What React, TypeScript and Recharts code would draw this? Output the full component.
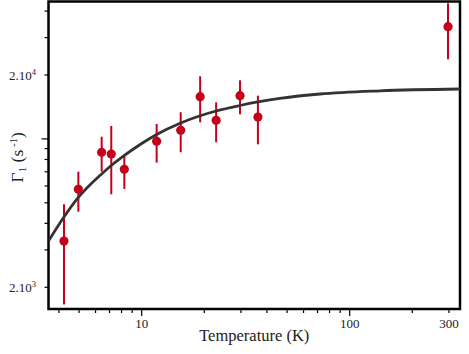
import React from 'react';
import { ComposedChart, Line, Scatter, XAxis, YAxis, ErrorBar, ReferenceArea } from 'recharts';

// Measured points
const temperatures = [4.23, 4.96, 6.42, 7.14, 8.25, 11.8, 15.4, 19.1, 22.8, 29.7, 36.2, 297];
const gammaValues = [3300, 5790, 8650, 8490, 7190, 9740, 10980, 15810, 12230, 15980, 12680, 33780];
const gammaLower = [1660, 4540, 7010, 5480, 5810, 7730, 8650, 11970, 9640, 13060, 9430, 23720];
const gammaUpper = [4920, 7010, 10240, 11510, 8310, 11760, 13350, 19720, 14870, 18880, 15980, 43520];

// Fitted curve
const fitTemperatures = [3.564, 4.23, 4.96, 6.42, 7.14, 8.25, 10, 11.8, 15.4, 19.1, 22.8, 29.7, 36.2, 46.2, 71.9, 140, 339];
const fitGamma = [3304, 4286, 5296, 6838, 7494, 8352, 9514, 10490, 11882, 12850, 13534, 14364, 14924, 15502, 16274, 16850, 17180];

// Axes
const xTicks = [4, 5, 6, 7, 8, 9, 10, 20, 30, 40, 50, 60, 70, 80, 90, 100, 200, 300];
const xTickLabels: Record<number, string> = { 10: '10', 100: '100', 300: '300' };
const xMajorTicks = [10, 100];
const yTicks = [2000, 3000, 4000, 5000, 6000, 7000, 8000, 9000, 10000, 20000, 30000, 40000];
const yTickLabels: Record<number, [string, string]> = { 2000: ['2.10', '3'], 20000: ['2.10', '4'] };
const yMajorTicks = [10000];
const xDomain = [3.564, 339.1];
const yDomain = [1580, 44380];

const xLabel = 'Temperature (K)';

const RED = '#c4001a';
const FONT = '"Liberation Serif", "DejaVu Serif", serif';

const pointData = temperatures.map((T, i) => ({
  T,
  G: gammaValues[i],
  err: [gammaValues[i] - gammaLower[i], gammaUpper[i] - gammaValues[i]],
}));
const fitData = fitTemperatures.map((T, i) => ({ T, G: fitGamma[i] }));

const XTick = (props: any) => {
  const { x, y, payload } = props;
  const v = payload.value;
  const len = xMajorTicks.includes(v) ? 7 : 4;
  const label = xTickLabels[v];
  return (
    <g>
      <line x1={x} x2={x} y1={y} y2={y + len} stroke="#000" strokeWidth={1.2} />
      {label && (
        <text x={x} y={y + 18.5} textAnchor="middle" fontSize={13} fontFamily={FONT} fill="#222">
          {label}
        </text>
      )}
    </g>
  );
};

const YTick = (props: any) => {
  const { x, y, payload } = props;
  const v = payload.value;
  const len = yMajorTicks.includes(v) ? 7 : 4;
  const label = yTickLabels[v];
  return (
    <g>
      <line x1={x - len} x2={x} y1={y} y2={y} stroke="#000" strokeWidth={1.2} />
      {label && (
        <text x={x - 12.5} y={y + 4.6} textAnchor="end" fontSize={13} fontFamily={FONT} fill="#222">
          {label[0]}
          <tspan dy={-5} fontSize={8.5}>{label[1]}</tspan>
        </text>
      )}
    </g>
  );
};

const YLabel = (props: any) => {
  const vb = props.viewBox || { x: 0, y: 1.5, width: 48.5, height: 307.5 };
  const cy = vb.y + vb.height / 2 + 2;
  return (
    <text
      x={0}
      y={0}
      transform={`translate(23, ${cy}) rotate(-90)`}
      textAnchor="middle"
      fontSize={17.5}
      fontFamily={FONT}
      fill="#222"
    >
      Γ<tspan dy={3} fontSize={11}>1</tspan>
      <tspan dy={-3}> (s</tspan>
      <tspan dy={-6} fontSize={11}> -1</tspan>
      <tspan dy={6}>)</tspan>
    </text>
  );
};

const XLabel = (props: any) => {
  const vb = props.viewBox || { x: 48.5, y: 309, width: 411.5, height: 45 };
  return (
    <text x={vb.x + vb.width / 2} y={341} textAnchor="middle" fontSize={16.5} fontFamily={FONT} fill="#222">
      {xLabel}
    </text>
  );
};

export default function App() {
  return (
    <div style={{ position: 'absolute', left: 0, top: 0, width: 469, height: 354, background: '#fff' }}>
      <ComposedChart width={469} height={354} margin={{ top: 1.5, right: 9, left: 0, bottom: 0 }}>
        <XAxis
          dataKey="T"
          type="number"
          scale="log"
          domain={xDomain}
          allowDataOverflow
          ticks={xTicks}
          interval={0}
          height={45}
          axisLine={false}
          tickLine={false}
          tickSize={0}
          tickMargin={0}
          tick={<XTick />}
          label={<XLabel />}
        />
        <YAxis
          dataKey="G"
          type="number"
          scale="log"
          domain={yDomain}
          allowDataOverflow
          ticks={yTicks}
          interval={0}
          width={48.5}
          axisLine={false}
          tickLine={false}
          tickSize={0}
          tickMargin={0}
          tick={<YTick />}
          label={<YLabel />}
        />
        <ReferenceArea
          x1={xDomain[0]}
          x2={xDomain[1]}
          y1={yDomain[0]}
          y2={yDomain[1]}
          fill="none"
          fillOpacity={0}
          stroke="#000"
          strokeWidth={2.5}
          ifOverflow="visible"
        />
        <Scatter
          data={pointData}
          dataKey="G"
          isAnimationActive={false}
          fill={RED}
          shape={(p: any) => <circle cx={p.cx} cy={p.cy} r={4.6} fill={RED} />}
        >
          <ErrorBar dataKey="err" direction="y" width={0} stroke={RED} strokeWidth={2} />
        </Scatter>
        <Line
          data={fitData}
          dataKey="G"
          type="monotone"
          stroke="#333333"
          strokeWidth={2.8}
          dot={false}
          activeDot={false}
          isAnimationActive={false}
        />
      </ComposedChart>
    </div>
  );
}
